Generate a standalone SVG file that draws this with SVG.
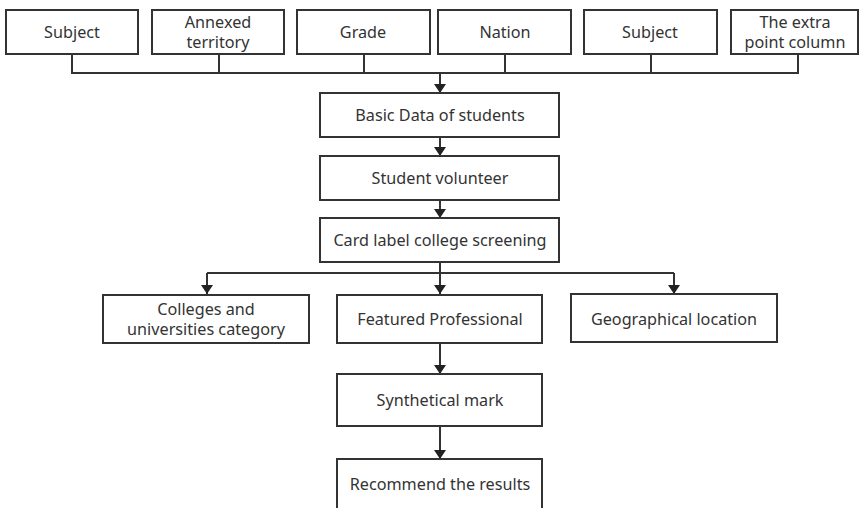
<svg xmlns="http://www.w3.org/2000/svg" width="859" height="508" viewBox="0 0 859 508">
<defs>
<style>
.box{fill:#fff;stroke:#333;stroke-width:2}
.t{font-family:"Noto Sans","Open Sans",sans-serif;font-size:16.2px;fill:#333;text-anchor:middle;dominant-baseline:central}
.ln{fill:none;stroke:#333;stroke-width:2}
</style>
<marker id="ah" viewBox="0 0 9 12" refX="9" refY="6" markerWidth="9" markerHeight="12" markerUnits="userSpaceOnUse" orient="auto">
<path d="M0,0 L9,6 L0,12 z" fill="#222" transform="rotate(0)"/>
</marker>
</defs>
<rect width="859" height="508" fill="#fff"/>
<g id="connectors">
<path class="ln" d="M72,54 V73 H798 V54 M219,54 V73 M364,54 V73 M505,54 V73 M651,54 V73"/>
<path class="ln" d="M440,73 V93" marker-end="url(#ah)"/>
<path class="ln" d="M440,137 V156" marker-end="url(#ah)"/>
<path class="ln" d="M440,200 V218" marker-end="url(#ah)"/>
<path class="ln" d="M440,262 V294" marker-end="url(#ah)"/>
<path class="ln" d="M207,273 H674"/>
<path class="ln" d="M207,273 V294" marker-end="url(#ah)"/>
<path class="ln" d="M674,273 V294" marker-end="url(#ah)"/>
<path class="ln" d="M440,343 V374" marker-end="url(#ah)"/>
<path class="ln" d="M440,426 V459" marker-end="url(#ah)"/>
</g>
<g id="n1"><rect class="box" x="6" y="10" width="132" height="44"/><text class="t" x="72" y="32">Subject</text></g>
<g id="n2"><rect class="box" x="152" y="10" width="132" height="44"/><text class="t" x="218" y="22">Annexed</text><text class="t" x="218" y="42">territory</text></g>
<g id="n3"><rect class="box" x="297" y="10" width="133" height="44"/><text class="t" x="363" y="32">Grade</text></g>
<g id="n4"><rect class="box" x="438" y="10" width="133" height="44"/><text class="t" x="505" y="32">Nation</text></g>
<g id="n5"><rect class="box" x="584" y="10" width="133" height="44"/><text class="t" x="650" y="32">Subject</text></g>
<g id="n6"><rect class="box" x="731" y="10" width="127" height="44"/><text class="t" x="795" y="22">The extra</text><text class="t" x="795" y="42">point column</text></g>
<g id="n7"><rect class="box" x="320" y="93" width="239" height="44"/><text class="t" x="440" y="115">Basic Data of students</text></g>
<g id="n8"><rect class="box" x="320" y="156" width="239" height="44"/><text class="t" x="440" y="178">Student volunteer</text></g>
<g id="n9"><rect class="box" x="320" y="218" width="239" height="44"/><text class="t" x="440" y="240">Card label college screening</text></g>
<g id="n10"><rect class="box" x="103" y="295" width="206" height="48"/><text class="t" x="206" y="309">Colleges and</text><text class="t" x="206" y="329">universities category</text></g>
<g id="n11"><rect class="box" x="337" y="295" width="205" height="48"/><text class="t" x="440" y="319">Featured Professional</text></g>
<g id="n12"><rect class="box" x="571" y="294" width="206" height="48"/><text class="t" x="674" y="319">Geographical location</text></g>
<g id="n13"><rect class="box" x="337" y="374" width="205" height="52"/><text class="t" x="440" y="400">Synthetical mark</text></g>
<g id="n14"><rect class="box" x="337" y="459" width="205" height="56"/><text class="t" x="440" y="484">Recommend the results</text></g>
</svg>
